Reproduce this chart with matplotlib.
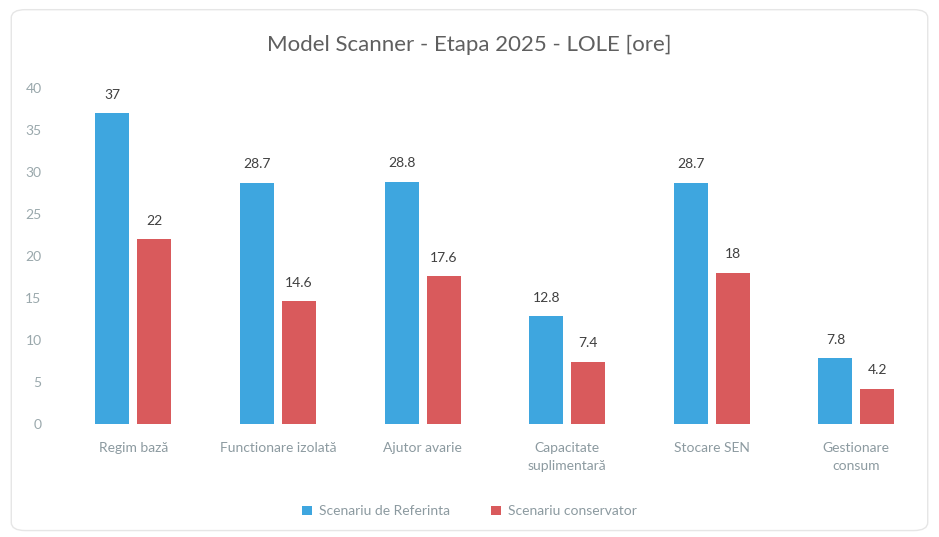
import matplotlib
matplotlib.use("Agg")
import matplotlib.pyplot as plt
import numpy as np
from matplotlib.patches import FancyBboxPatch

categories = ["Regim bază", "Functionare izolată", "Ajutor avarie", "Capacitate\nsuplimentară", "Stocare SEN", "Gestionare\nconsum"]
referinta = [37, 28.7, 28.8, 12.8, 28.7, 7.8]
conservator = [22, 14.6, 17.6, 7.4, 18, 4.2]
ref_labels = ["37", "28.7", "28.8", "12.8", "28.7", "7.8"]
cons_labels = ["22", "14.6", "17.6", "7.4", "18", "4.2"]
series_names = ["Scenariu de Referinta", "Scenariu conservator"]
yticks = [0, 5, 10, 15, 20, 25, 30, 35, 40]

plt.rcParams['font.family'] = ['Lato', 'DejaVu Sans']

fig = plt.figure(figsize=(9.39, 5.37), dpi=100)
fig.patch.set_facecolor('white')
border = FancyBboxPatch((0.012, 0.012), 0.976, 0.97, boxstyle="round,pad=0,rounding_size=0.015",
                        transform=fig.transFigure, fill=False, edgecolor='#e6e6e6', linewidth=1)
fig.patches.append(border)

ax = fig.add_axes([0.065, 0.2104, 0.924, 0.6257])
x = np.arange(len(categories))
w = 0.235
off = 0.145
blue = '#3ea6df'
red = '#d95a5c'
b1 = ax.bar(x - off, referinta, w, color=blue, label=series_names[0])
b2 = ax.bar(x + off, conservator, w, color=red, label=series_names[1])
for rect, lab in zip(b1, ref_labels):
    ax.text(rect.get_x() + rect.get_width() / 2, rect.get_height() + 1.5, lab,
            ha='center', va='bottom', fontsize=10, color='#404040')
for rect, lab in zip(b2, cons_labels):
    ax.text(rect.get_x() + rect.get_width() / 2, rect.get_height() + 1.5, lab,
            ha='center', va='bottom', fontsize=10, color='#404040')

ax.set_xlim(-0.5, len(categories) - 0.5)
ax.set_ylim(0, 40)
ax.set_yticks(yticks)
ax.set_xticks(x)
ax.set_xticklabels(categories, fontsize=10, color='#8c9aa0', linespacing=1.6)
ax.tick_params(axis='y', labelsize=10, labelcolor='#9aa8ac', length=0, pad=14)
ax.tick_params(axis='x', length=0, pad=13)
for s in ax.spines.values():
    s.set_visible(False)

fig.suptitle("Model Scanner - Etapa 2025 - LOLE [ore]", y=0.935, fontsize=16, color='#5f5f5f')

fig.legend(handles=[b1, b2], labels=series_names, loc='center', bbox_to_anchor=(0.5, 0.048),
           ncol=2, frameon=False, fontsize=10, handlelength=0.7, handleheight=0.7,
           columnspacing=3.0, handletextpad=0.5, labelcolor='#8c9aa0')

fig.savefig("out.png", dpi=100, facecolor='white')
